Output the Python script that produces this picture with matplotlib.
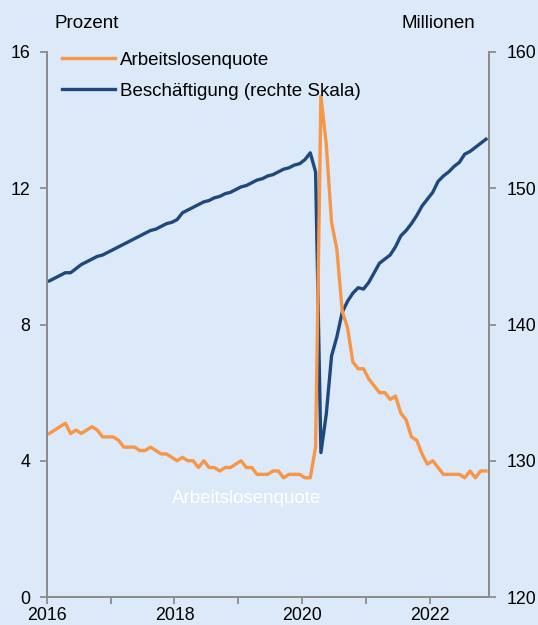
import numpy as np
import matplotlib
matplotlib.use('Agg')
import matplotlib.pyplot as plt
from matplotlib.ticker import MultipleLocator

# monthly values, Jan 2016 - Nov 2022
arbeitslosenquote = [
    4.8, 4.9, 5.0, 5.1, 4.8, 4.9, 4.8, 4.9, 5.0, 4.9, 4.7, 4.7,
    4.7, 4.6, 4.4, 4.4, 4.4, 4.3, 4.3, 4.4, 4.3, 4.2, 4.2, 4.1,
    4.0, 4.1, 4.0, 4.0, 3.8, 4.0, 3.8, 3.8, 3.7, 3.8, 3.8, 3.9,
    4.0, 3.8, 3.8, 3.6, 3.6, 3.6, 3.7, 3.7, 3.5, 3.6, 3.6, 3.6,
    3.5, 3.5, 4.4, 14.7, 13.3, 11.0, 10.2, 8.4, 7.9, 6.9, 6.7, 6.7,
    6.4, 6.2, 6.0, 6.0, 5.8, 5.9, 5.4, 5.2, 4.7, 4.6, 4.2, 3.9,
    4.0, 3.8, 3.6, 3.6, 3.6, 3.6, 3.5, 3.7, 3.5, 3.7, 3.7,
]
beschaeftigung = [
    143.2, 143.4, 143.6, 143.8, 143.8, 144.1, 144.4, 144.6, 144.8, 145.0, 145.1, 145.3,
    145.5, 145.7, 145.9, 146.1, 146.3, 146.5, 146.7, 146.9, 147.0, 147.2, 147.4, 147.5,
    147.7, 148.2, 148.4, 148.6, 148.8, 149.0, 149.1, 149.3, 149.4, 149.6, 149.7, 149.9,
    150.1, 150.2, 150.4, 150.6, 150.7, 150.9, 151.0, 151.2, 151.4, 151.5, 151.7, 151.8,
    152.1, 152.6, 151.2, 130.6, 133.4, 137.7, 139.1, 140.9, 141.7, 142.3, 142.7, 142.6,
    143.1, 143.8, 144.5, 144.8, 145.1, 145.7, 146.5, 146.9, 147.4, 148.0, 148.7, 149.2,
    149.7, 150.5, 150.9, 151.2, 151.6, 151.9, 152.5, 152.7, 153.0, 153.3, 153.6,
]
jahre = [2016, 2018, 2020, 2022]

x = 2016 + (np.arange(len(arbeitslosenquote)) + 0.5) / 12

bg = '#dce9f8'
orange = '#f79646'
blau = '#1f497d'
grau = '#8c8c8c'

plt.rcParams['font.family'] = ['Liberation Sans', 'DejaVu Sans']

fig = plt.figure(figsize=(5.38, 6.25), dpi=100, facecolor=bg)
ax = fig.add_axes([0.0868, 0.0448, 0.8215, 0.872])
ax2 = ax.twinx()
ax2.set_facecolor(bg)
ax.set_zorder(ax2.get_zorder() + 1)
ax.patch.set_visible(False)

l1, = ax.plot(x, arbeitslosenquote, color=orange, lw=2.4, label='Arbeitslosenquote')
l2, = ax2.plot(x, beschaeftigung, color=blau, lw=2.4, label='Beschäftigung (rechte Skala)')

ax.set_xlim(2016, 2022.917)
ax.set_ylim(0, 16)
ax2.set_ylim(120, 160)
ax.set_yticks([0, 4, 8, 12, 16])
ax2.set_yticks([120, 130, 140, 150, 160])
ax.set_xticks(jahre)
ax.xaxis.set_minor_locator(MultipleLocator(1))

for a in (ax, ax2):
    for s in a.spines.values():
        s.set_color(grau)
        s.set_linewidth(1.3)
    a.spines['top'].set_visible(False)
    a.tick_params(which='both', color=grau, width=1.3, length=5, labelsize=12.8,
                  labelcolor='black')
ax.tick_params(axis='y', pad=7)
ax2.tick_params(axis='y', pad=8)
ax.tick_params(axis='x', pad=2.5)

fig.text(0.102, 0.963, 'Prozent', fontsize=13.5, va='center')
fig.text(0.747, 0.963, 'Millionen', fontsize=13.5, va='center')

ax.text(2019.13, 2.9, 'Arbeitslosenquote', color='white', fontsize=13.5, ha='center', va='center')

ax.legend(handles=[l1, l2], loc='upper left', bbox_to_anchor=(0.018, 1.0145), frameon=False,
          fontsize=13.5, handlelength=2.83, handletextpad=0.27, labelspacing=0.75, borderaxespad=0)

fig.savefig('out.png', dpi=100, facecolor=bg)
